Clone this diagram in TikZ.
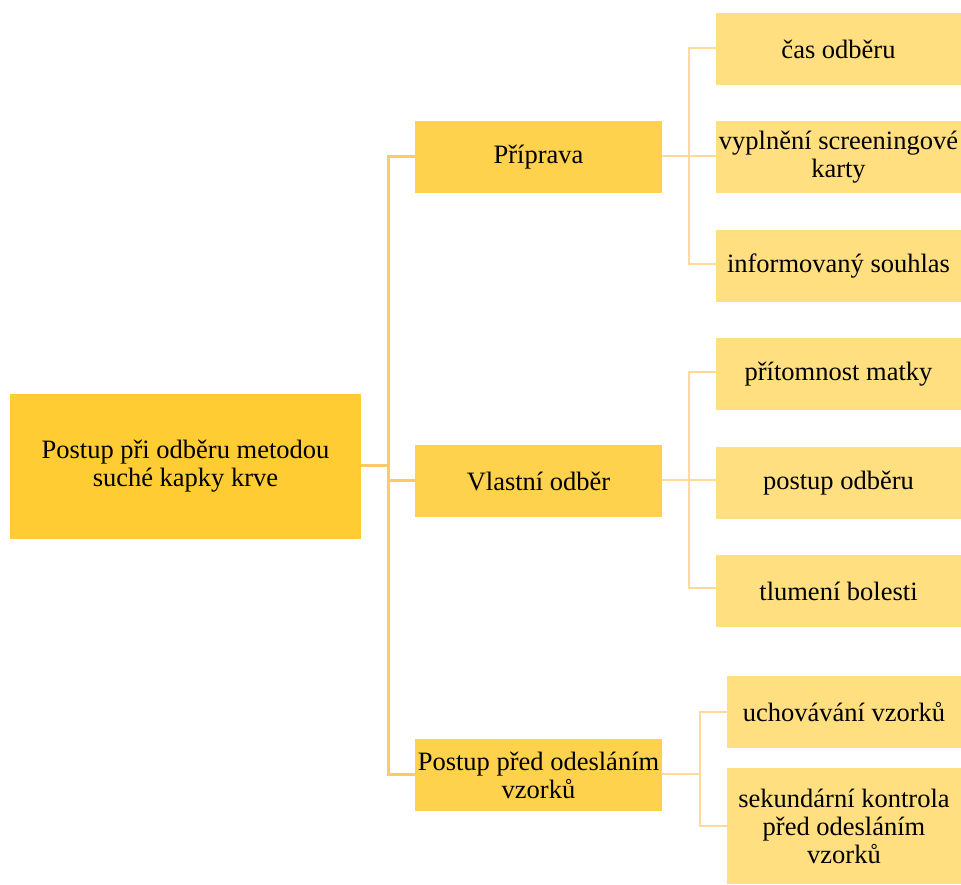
\documentclass[tikz,border=0pt]{standalone}
\usepackage{fontspec}
\setmainfont{Liberation Serif}
\usetikzlibrary{positioning}
\definecolor{rootfill}{HTML}{FFCC33}
\definecolor{midfill}{HTML}{FFD24D}
\definecolor{leaffill}{HTML}{FFDF80}
\definecolor{trunkline}{HTML}{FFC966}
\definecolor{leafline}{HTML}{FFD99A}
\begin{document}
\begin{tikzpicture}[x=1pt, y=-1pt, inner sep=0pt, align=center,
    font=\fontsize{26.5}{28}\selectfont,
    rootbox/.style={fill=rootfill, minimum width=351pt, minimum height=145pt},
    midbox/.style={fill=midfill, minimum width=247pt, minimum height=72pt},
    leafbox/.style={fill=leaffill, minimum width=245pt, minimum height=72pt},
    elbow/.style={to path={-- ++(#1,0) |- (\tikztotarget)}},
    trunk/.style={draw=trunkline, line width=3pt},
    twig/.style={draw=leafline, line width=2.2pt}]
      \useasboundingbox (0,0) rectangle (961,884);
      % connectors first, boxes on top
      \coordinate (rootE) at (361,465.5);
      \coordinate (pripW) at (415,156);
      \coordinate (vlastW) at (415,480);
      \coordinate (odeslW) at (415,774);
      \path[trunk]
      (rootE) edge [elbow=27] (pripW)
      (rootE) edge [elbow=27] (vlastW)
      (rootE) edge [elbow=27] (odeslW)
      ;
      \path[twig]
      (662,156) edge [elbow=27] (716,48)
      (662,156) edge [elbow=27] (716,156)
      (662,156) edge [elbow=27] (716,264)
      (662,480) edge [elbow=27] (716,372)
      (662,480) edge [elbow=27] (716,480)
      (662,480) edge [elbow=27] (716,588)
      (662,774) edge [elbow=38] (727,712)
      (662,774) edge [elbow=38] (727,826)
      ;
      % boxes
      \node [rootbox] (root) at (185.5,466.5) {Postup při odběru metodou\\suché kapky krve};
      \node [midbox] (prip) at (538.5,157) {Příprava};
      \node [midbox] (vlast) at (538.5,481) {Vlastní odběr};
      \node [midbox] (odesl) at (538.5,775) {Postup před odesláním\\vzorků};
      \node [leafbox] (cas) at (838.5,49) {čas odběru};
      \node [leafbox] (karta) [below=36pt of cas] {vyplnění screeningové\\karty};
      \node [leafbox] (souhlas) [below=36pt of karta] {informovaný souhlas};
      \node [leafbox] (matka) [below=36pt of souhlas] {přítomnost matky};
      \node [leafbox] (postup) [below=36pt of matka] {postup odběru};
      \node [leafbox] (bolest) [below=36pt of postup] {tlumení bolesti};
      \node [leafbox, minimum width=234pt] (uchov) at (844,712) {uchovávání vzorků};
      \node [leafbox, minimum width=234pt, minimum height=116pt] (kontrola) at (844,826) {sekundární kontrola\\před odesláním\\vzorků};
\end{tikzpicture}
\end{document}
